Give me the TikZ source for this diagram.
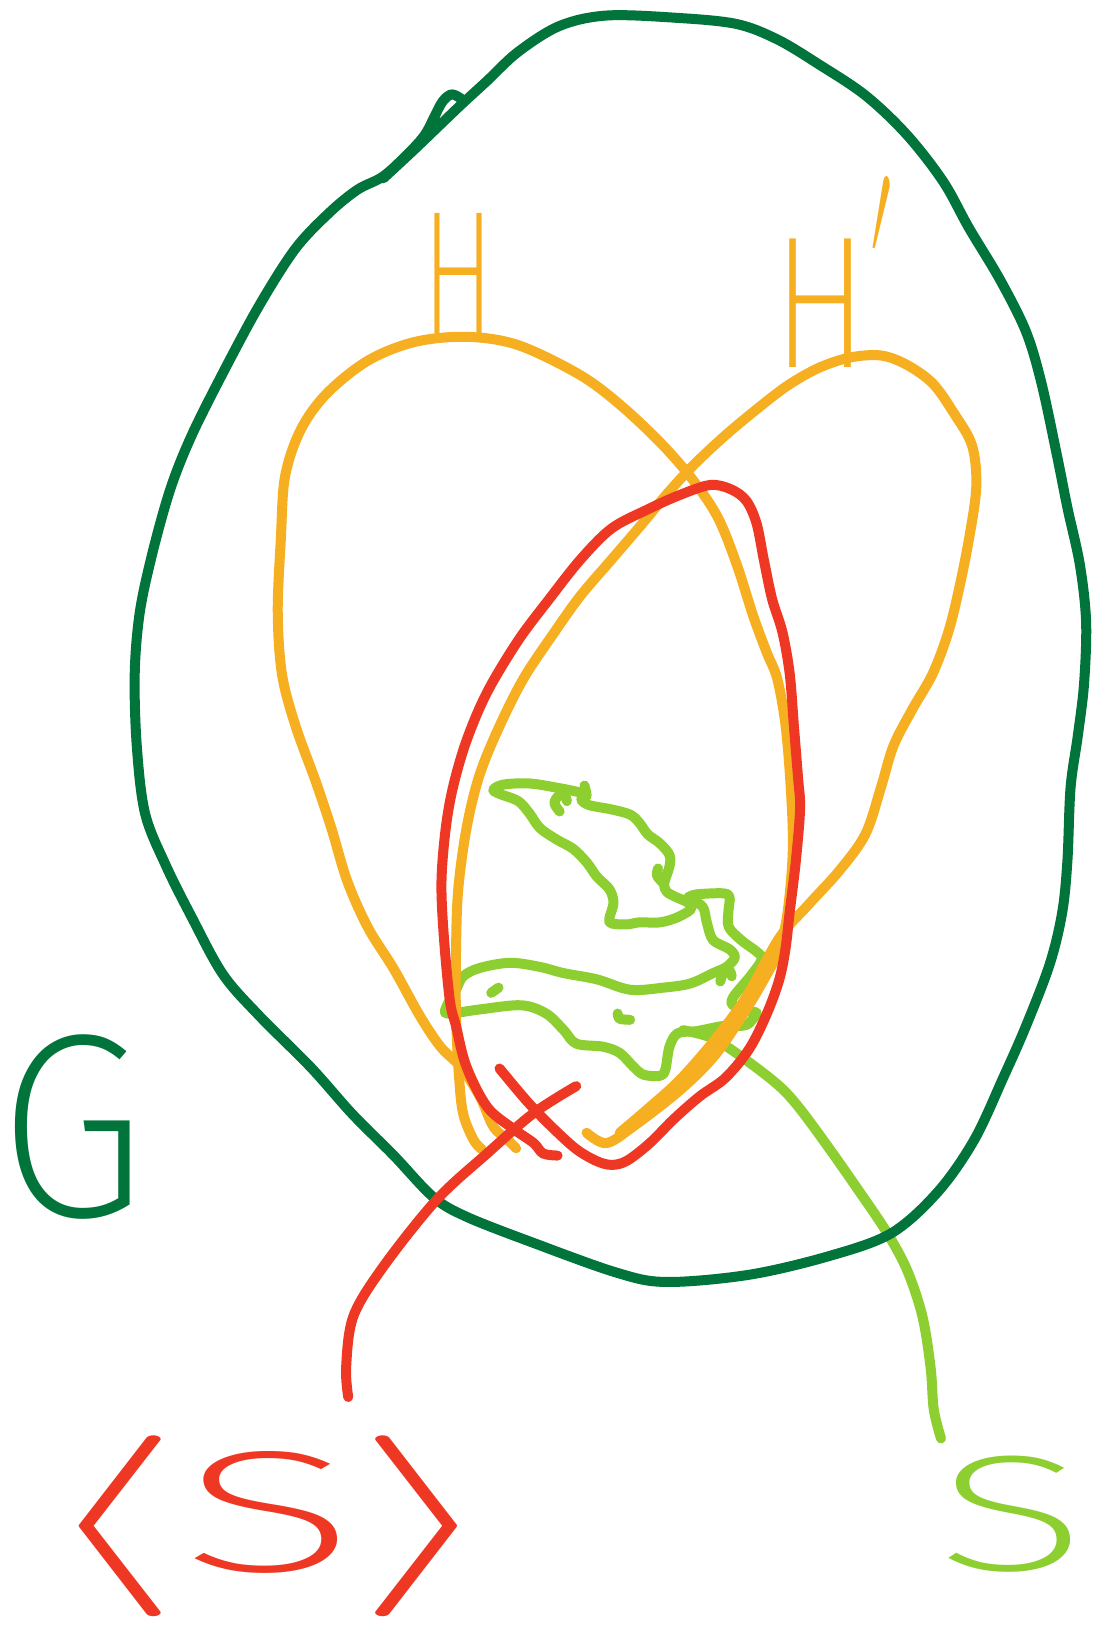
\documentclass[tikz,border=0pt]{standalone}
\usepackage{fontspec}
\usepackage{graphicx}
\IfFontExistsTF{latinmodern-math.otf}{\newfontfamily\mathsym{latinmodern-math.otf}}{\newfontfamily\mathsym{DejaVu Sans}}
\IfFontExistsTF{FiraSans-ExtraLight.otf}{\newfontfamily\hand{FiraSans-ExtraLight.otf}}{%
  \IfFontExistsTF{Fira Sans ExtraLight}{\newfontfamily\hand{Fira Sans ExtraLight}}{\newfontfamily\hand{Latin Modern Sans}}}
\definecolor{dkg}{RGB}{0,116,58}
\definecolor{org}{RGB}{245,175,32}
\definecolor{rd}{RGB}{238,56,36}
\definecolor{lgr}{RGB}{141,206,48}
\tikzset{
  pen/.style={line width=10pt, line cap=round, line join=round},
  sk/.style={smooth, tension=0.55},
  lbl/.style={inner sep=0pt, outer sep=0pt},
}
\begin{document}
\begin{tikzpicture}[x=1.0366pt, y=-1.0366pt]
\fill[white] (0,0) rectangle (1065,1568);
\useasboundingbox (0,0) rectangle (1065,1568);

% ---------- light green: S set (blob and bands) ----------
\begin{scope}[pen, draw=lgr]
\draw plot[sk] coordinates {(564,758) (566,768) (561,765) (537,760) (511,756) (486,757) (476,762) (482,766) (500,773) (511,785) (521,799) (537,810) (553,819) (566,832) (576,846) (588,858) (592,871) (588,886) (590,891) (605,892) (617,890) (637,890) (654,885) (667,877) (664,871) (651,865) (643,860) (641,852) (646,836) (646,825) (637,814) (625,805) (617,794) (608,786) (590,781) (569,777) (561,772) (564,767)};
\draw plot[sk] coordinates {(540,783) (535,775) (539,768) (545,768) (547,773)};
\draw plot[sk] coordinates {(635,838) (634,845) (640,852)};
\draw plot[sk] coordinates {(664,866) (672,863) (698,862) (704,866) (703,878) (703,894) (715,907) (731,919) (735,926) (724,942) (707,963) (709,971) (730,977)};
\draw plot[sk] coordinates {(664,866) (678,875) (682,890) (688,907) (704,916) (709,924) (701,933) (688,939) (666,949) (640,953) (608,955) (576,945) (544,939) (521,933) (492,929) (463,934) (447,942) (440,955) (431,971) (432,978) (463,974) (503,970) (527,978) (544,994) (556,1007) (582,1010) (598,1016) (611,1029) (621,1037) (637,1038) (642,1032) (646,1010) (654,997) (672,995) (698,990) (720,989) (730,978)};
\draw plot[sk] coordinates {(695,947) (698,939) (704,937) (706,942)};
\draw plot[sk] coordinates {(474,958) (481,953)};
\draw plot[sk] coordinates {(596,978) (598,983) (608,984)};
% connector to S
\draw plot[sk] coordinates {(659,994) (688,1002) (720,1023) (752,1048) (772,1070) (800,1108) (828,1148) (855,1188) (875,1225) (890,1270) (898,1320) (901,1360) (908,1388)};
\end{scope}

% ---------- dark green: G set ----------
\begin{scope}[pen, draw=dkg]
\draw plot[sk] coordinates {(370,172) (398,146) (422,123) (445,101) (470,78) (500,50) (540,25) (585,15) (650,17) (710,23) (750,38) (790,62) (835,92) (875,130) (910,175) (935,220) (965,270) (990,320) (1005,370) (1020,440) (1030,490) (1042,545) (1048,600) (1046,660) (1040,710) (1033,760) (1030,830) (1025,880) (1013,930) (990,990) (968,1040) (940,1100) (905,1150) (860,1190) (800,1212) (723,1230) (643,1237) (595,1228) (514,1199) (450,1174) (418,1155) (380,1115) (340,1075) (300,1030) (250,980) (215,940) (185,885) (160,835) (140,785) (132,720) (130,650) (135,590) (148,530) (165,470) (185,420) (215,360) (250,295) (285,240) (318,205) (345,183) (370,170) (395,147) (410,130) (419,113) (427,98) (436,91) (446,96)};
\end{scope}

% ---------- orange: H and H' sets ----------
\begin{scope}[pen, draw=org]
\draw plot[sk] coordinates {(566,1093) (585,1103) (611,1087) (656,1052) (690,1018) (720,974) (740,940) (752,916) (760,880) (765,820) (763,760) (758,700) (750,655) (740,630) (727,595) (711,545) (693,500) (670,465) (640,430) (600,392) (560,362) (500,333) (450,325) (400,330) (355,348) (315,380) (290,415) (275,460) (271,520) (268,590) (272,650) (285,700) (305,755) (320,800) (335,850) (355,895) (380,935) (405,980) (425,1010) (445,1030) (463,1058) (476,1087) (490,1100) (498,1108)};
\draw plot[sk] coordinates {(598,1093) (625,1070) (656,1042) (690,1003) (720,962) (752,905) (780,873) (810,840) (835,805) (850,760) (862,720) (880,685) (900,650) (915,610) (925,570) (935,520) (942,470) (938,430) (920,398) (900,370) (875,352) (850,343) (820,345) (790,355) (760,372) (730,395) (700,420) (670,448) (645,475) (620,505) (590,540) (560,575) (535,610) (505,655) (480,705) (462,750) (450,800) (442,860) (440,920) (440,980) (443,1040) (447,1075) (457,1100) (465,1109)};
\end{scope}

% ---------- red: <S> set ----------
\begin{scope}[pen, draw=rd]
\draw plot[sk] coordinates {(538,1115) (524,1113) (515,1103) (495,1089) (470,1068) (450,1029) (440,990) (434,965) (428,900) (426,850) (430,800) (437,760) (450,715) (470,668) (500,618) (530,578) (560,540) (590,510) (624,492) (655,478) (685,468) (705,472) (720,483) (730,505) (737,540) (745,578) (755,610) (762,650) (766,700) (770,750) (772,780) (768,830) (762,880) (758,915) (752,945) (740,978) (723,1012) (700,1040) (675,1058) (650,1080) (627,1103) (605,1120) (590,1124) (575,1120) (555,1108) (530,1085) (508,1062) (482,1031)};
% connector to <S>
\draw plot[sk] coordinates {(556,1048) (515,1074) (470,1113) (421,1158) (370,1222) (341,1270) (334,1319) (336,1348)};
\end{scope}

% ---------- labels ----------
\node[lbl, text=dkg, anchor=base, font={\fontsize{262}{262}\selectfont\hand}] (G) at (70,1174) {\scalebox{0.92}[1]{G}};
\node[lbl, text=org, anchor=base, font={\fontsize{180}{180}\selectfont\hand}] (H) at (442,325) {\scalebox{0.6}[1]{H}};
\node[lbl, text=org, anchor=base west, font={\fontsize{188}{188}\selectfont\hand}] (Hp) at (746,355) {\scalebox{0.75}[1]{H}\raisebox{22pt}{\mathsym\fontsize{226}{226}\selectfont\scalebox{0.4}[1]{′}}};
\node[lbl, text=rd, anchor=base west, font={\fontsize{181}{181}\selectfont}] (genS) at (38,1516) {\scalebox{2.0}[1]{\mathsym ⟨}{\fontsize{173}{173}\selectfont\hand\scalebox{1.9}[1]{S}}\scalebox{2.0}[1]{\mathsym ⟩}};
\node[lbl, text=lgr, anchor=base, font={\fontsize{165}{165}\selectfont\hand}] (S) at (976,1515) {\scalebox{1.7}[1]{S}};
\end{tikzpicture}
\end{document}
